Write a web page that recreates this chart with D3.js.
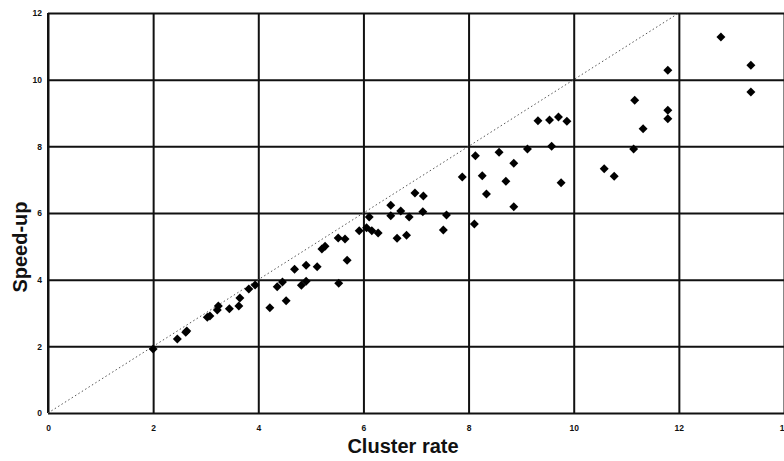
<!DOCTYPE html>
<html>
<head>
<meta charset="utf-8">
<script src="https://cdn.jsdelivr.net/npm/d3@7"></script>
<style>
  body { margin: 0; background: #fff; }
  svg { display: block; font-family: "Liberation Sans", Arial, sans-serif; }
  .tick text { font-size: 8.5px; font-weight: bold; fill: #111; }
  .grid line { stroke: #111; stroke-width: 2; }
  .grid .domain { display: none; }
  .axis-label { font-size: 20px; font-weight: bold; fill: #111; }
</style>
</head>
<body>
<svg id="chart" width="784" height="461"></svg>
<script>
// values
const clusterRate = [
  2.00, 2.46, 2.62, 2.64, 3.03, 3.08, 3.22, 3.24, 3.45, 3.63, 3.65, 3.82, 3.94,
  4.22, 4.36, 4.46, 4.53, 4.69, 4.82, 4.91, 4.91, 5.12, 5.21, 5.27, 5.52, 5.53,
  5.65, 5.69, 5.92, 6.06, 6.11, 6.16, 6.28, 6.52, 6.52, 6.71, 6.64, 6.82, 6.87,
  6.98, 7.14, 7.13, 7.58, 7.52, 7.88, 8.13, 8.26, 8.34, 8.11, 8.58, 8.86, 8.71,
  8.86, 9.12, 9.32, 9.54, 9.71, 9.87, 9.76, 9.58, 10.58, 10.77, 11.14, 11.16,
  11.32, 11.79, 11.79, 11.79, 12.80, 13.37, 13.37
];
const speedUp = [
  1.92, 2.22, 2.42, 2.46, 2.87, 2.91, 3.09, 3.21, 3.13, 3.21, 3.45, 3.72, 3.84,
  3.16, 3.79, 3.93, 3.37, 4.31, 3.83, 3.95, 4.43, 4.39, 4.92, 5.00, 5.25, 3.89,
  5.22, 4.58, 5.47, 5.56, 5.88, 5.47, 5.40, 6.23, 5.92, 6.06, 5.24, 5.33, 5.88,
  6.60, 6.51, 6.04, 5.94, 5.49, 7.08, 7.72, 7.12, 6.57, 5.67, 7.82, 7.49, 6.95,
  6.19, 7.92, 8.77, 8.79, 8.88, 8.75, 6.91, 8.00, 7.33, 7.10, 7.92, 9.38,
  8.53, 9.08, 8.83, 10.28, 11.28, 10.43, 9.63
];
const xTicks = [0, 2, 4, 6, 8, 10, 12, 14];
const yTicks = [0, 2, 4, 6, 8, 10, 12];
const diagonal = [0, 12];

const margin = { top: 13, left: 48 };
const width = 784 - margin.left;   // x = 14 falls on the right edge
const height = 400;

const svg = d3.select("#chart");
const g = svg.append("g").attr("transform", `translate(${margin.left},${margin.top})`);

const xScale = d3.scaleLinear().domain([0, 14]).range([0, width]);
const yScale = d3.scaleLinear().domain([0, 12]).range([height, 0]);

// vertical gridlines + x tick labels
g.append("g")
  .attr("class", "grid")
  .attr("transform", `translate(0,${height})`)
  .call(d3.axisBottom(xScale).tickValues(xTicks).tickSize(-height).tickPadding(12)
    .tickFormat(d3.format("d")));

// horizontal gridlines + y tick labels
g.append("g")
  .attr("class", "grid")
  .call(d3.axisLeft(yScale).tickValues(yTicks).tickSize(-width).tickPadding(6)
    .tickFormat(d3.format("d")));

// left border line
g.append("line")
  .attr("x1", 0).attr("x2", 0).attr("y1", 0).attr("y2", height)
  .attr("stroke", "#111").attr("stroke-width", 2);

// y = x reference
g.append("line")
  .attr("x1", xScale(diagonal[0])).attr("y1", yScale(diagonal[0]))
  .attr("x2", xScale(diagonal[1])).attr("y2", yScale(diagonal[1]))
  .attr("stroke", "#555").attr("stroke-width", 1)
  .attr("stroke-dasharray", "1.5,2.5");

const diamond = d3.symbol(d3.symbolSquare, 40);
g.selectAll("path.pt")
  .data(clusterRate.map((c, i) => [c, speedUp[i]]))
  .join("path")
  .attr("class", "pt")
  .attr("d", diamond)
  .attr("transform", (d) => `translate(${xScale(d[0])},${yScale(d[1])}) rotate(45)`)
  .attr("fill", "#000");

svg.append("text")
  .attr("class", "axis-label")
  .attr("text-anchor", "middle")
  .attr("x", 403).attr("y", 453)
  .text("Cluster rate");

svg.append("text")
  .attr("class", "axis-label")
  .attr("text-anchor", "middle")
  .attr("transform", "translate(27,247) rotate(-90)")
  .text("Speed-up");
</script>
</body>
</html>
